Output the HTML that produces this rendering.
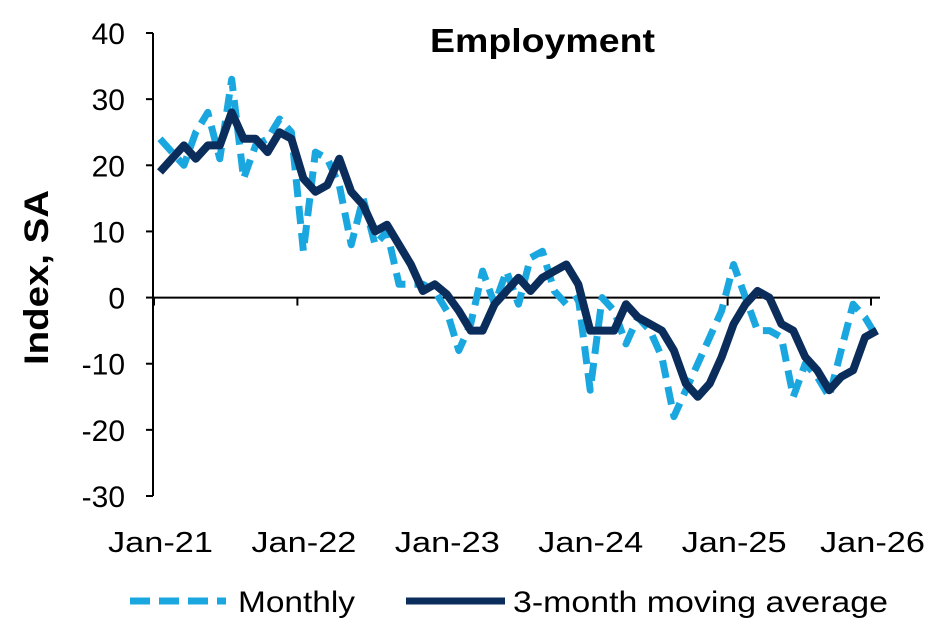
<!DOCTYPE html>
<html><head><meta charset="utf-8"><style>
body{margin:0;background:#fff;width:938px;height:626px;overflow:hidden;font-family:"Liberation Sans",sans-serif}
</style></head><body>
<svg id="chart" width="938" height="626" xmlns="http://www.w3.org/2000/svg" font-family="Liberation Sans, sans-serif">
<text x="430" y="52" font-size="33" font-weight="bold" textLength="225" lengthAdjust="spacingAndGlyphs">Employment</text>
<text transform="translate(48,365) rotate(-90)" font-size="34" font-weight="bold" textLength="175" lengthAdjust="spacingAndGlyphs">Index, SA</text>
<g id="axes"></g>
<g id="series"></g>
<g>
<line x1="130" y1="601" x2="226" y2="601" stroke="#1AA7E0" stroke-width="7" stroke-dasharray="20,9"/>
<text x="238" y="612" font-size="30" textLength="117" lengthAdjust="spacingAndGlyphs">Monthly</text>
<line x1="406" y1="601" x2="505" y2="601" stroke="#0B2D5B" stroke-width="7"/>
<text x="513" y="612" font-size="30" textLength="375" lengthAdjust="spacingAndGlyphs">3-month moving average</text>
</g>
</svg>
<script>
const yTicks=[40,30,20,10,0,-10,-20,-30];
const xLabels=["Jan-21","Jan-22","Jan-23","Jan-24","Jan-25","Jan-26"];
const monthly=[24,22,20,25,28,21,33,18,23,24,27,25,7,22,21,17,8,15,8,10,2,2,2,1,-2,-8,-4,4,-1,4,-1,6,7,1,-1,0,-14,0,-2,-7,-3,-5,-9,-18,-14,-10,-6,-2,5,0,-5,-5,-6,-15,-10,-12,-15,-8,-1,-3,-6];
const movingAvg=[19,21,23,21,23,23,28,24,24,22,25,24,18,16,17,21,16,14,10,11,8,5,1,2,0.5,-2,-5,-5,-1,1,3,1,3,4,5,2,-5,-5,-5,-1,-3,-4,-5,-8,-13,-15,-13,-9,-4,-1,1,0,-4,-5,-9,-11,-14,-12,-11,-6,-5];
const NS="http://www.w3.org/2000/svg";
const Y_MAX=40,Y_MIN=-30,PLOT_TOP=33,PLOT_BOT=496;
function yS(v){return PLOT_TOP+(Y_MAX-v)*(PLOT_BOT-PLOT_TOP)/(Y_MAX-Y_MIN);}
function xS(i){return 160+i*11.95;}
function mk(t,a,p){const e=document.createElementNS(NS,t);for(const k in a)e.setAttribute(k,a[k]);p.appendChild(e);return e;}
const ax=document.getElementById('axes');
const yAxis=mk('line',{x1:153,y1:PLOT_TOP,x2:153,y2:PLOT_BOT,stroke:'#000','stroke-width':2},ax);


yTicks.forEach(v=>{
 const t=mk('line',{x1:146,y1:yS(v),x2:153,y2:yS(v),stroke:'#000','stroke-width':2},ax);
 
 
 const l=mk('text',{x:125,y:yS(v)+11,'font-size':30,'text-anchor':'end'},ax);
 l.textContent=v;
 
 
});
const zero=mk('line',{x1:153,y1:yS(0),x2:880,y2:yS(0),stroke:'#000','stroke-width':2},ax);


xLabels.forEach((s,k)=>{
 const tx=xS(k*12)-6;
 const t=mk('line',{x1:tx,y1:yS(0),x2:tx,y2:yS(0)+8,stroke:'#000','stroke-width':2},ax);
 
 
 const l=mk('text',{x:Math.min(xS(k*12),872)-52,y:552,'font-size':29,textLength:105,lengthAdjust:'spacingAndGlyphs'},ax);
 l.textContent=s;
 
 
});
const sg=document.getElementById('series');
function pts(a){return a.map((v,i)=>xS(i).toFixed(1)+','+yS(v).toFixed(1)).join(' ');}
const m=mk('polyline',{points:pts(monthly),fill:'none',stroke:'#1AA7E0','stroke-width':7,'stroke-dasharray':'18,9','stroke-linejoin':'round'},sg);


const a=mk('polyline',{points:pts(movingAvg),fill:'none',stroke:'#0B2D5B','stroke-width':8,'stroke-linejoin':'round'},sg);


</script>
</body></html>
